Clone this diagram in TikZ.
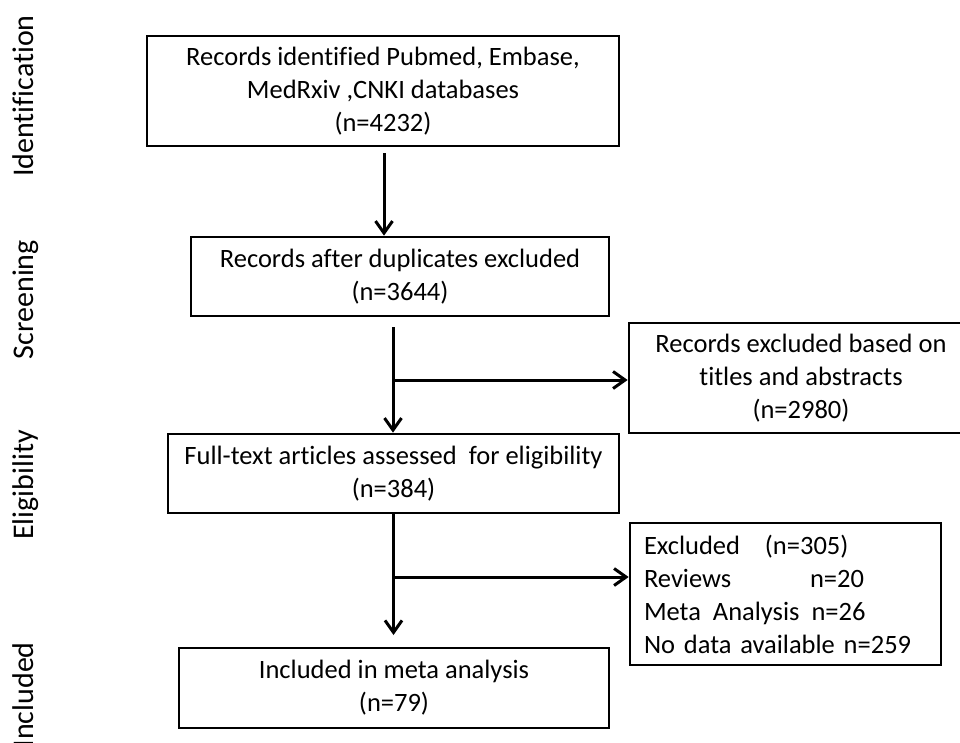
\documentclass[tikz,border=0pt]{standalone}
\usepackage{fontspec}
\setmainfont{Carlito}[Ligatures={NoCommon}]
\usetikzlibrary{arrows.meta}
\begin{document}
\begin{tikzpicture}[x=1pt,y=-1pt,
  box/.style={draw, line width=2.7pt, align=center, inner sep=0pt,
    font=\fontsize{26.5}{33}\selectfont},
  arr/.style={line width=3pt, -{Straight Barb[length=12pt,width=17pt]}},
  lab/.style={rotate=90, anchor=base east, inner sep=0pt,
    font=\fontsize{30}{36}\selectfont}]
\useasboundingbox (0,0) rectangle (960,742);
\clip (0,0) rectangle (960,742);

% side labels
\node[lab] (L1) at (33,15) {Identification};
\node[lab] (L2) at (33,240) {Screening};
\node[lab] (L3) at (33,430) {Eligibility};
\node[lab] (L4) at (33,642) {Included};

% boxes
\node[box, minimum width=472pt, minimum height=110pt] (B1) at (383,91)
  {Records identified Pubmed, Embase,\\MedRxiv ,CNKI databases\\(n=4232)};
\node[box, minimum width=418pt, minimum height=79pt] (B2) at (400,276.5)
  {Records after duplicates excluded\\(n=3644)};
\node[box, minimum width=344pt, minimum height=110pt] (B4) at (801,378)
  {Records excluded based on\\titles and abstracts\\(n=2980)};
\node[box, minimum width=451pt, minimum height=79pt] (B3) at (393.5,473.5)
  {Full-text articles assessed\hspace{12pt}for eligibility\\(n=384)};
\node[box, align=left, text width=283pt, inner xsep=14pt, minimum height=142pt] (B5) at (785.5,594)
  {\makebox[121pt][l]{Excluded}(n=305)\\
   \makebox[166pt][l]{Reviews}n=20\\
   Meta\hspace{12pt}Analysis\hspace{12pt}n=26\\
   No data available n=259};
\node[box, minimum width=430pt, minimum height=80pt] (B6) at (394,688)
  {Included in meta analysis\\(n=79)};

% connectors
\coordinate (s1) at (384,153);
\draw[arr] (s1) -- (s1 |- B2.north);

\coordinate (s2) at (393,327);
\coordinate (j2) at (393,380);
\draw[arr] (s2) -- (s2 |- B3.north);
\draw[arr] (j2) -- (j2 -| B4.west);

\coordinate (e3) at (393,635);
\coordinate (j3) at (393,577);
\draw[arr] (B3.south) -- (B3.south |- e3);
\draw[arr] (B3.south |- j3) -- (j3 -| B5.west);
\end{tikzpicture}
\end{document}
